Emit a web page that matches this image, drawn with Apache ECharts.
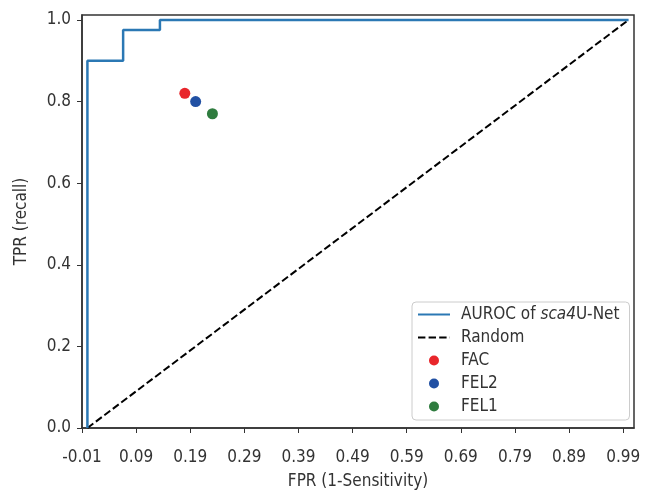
<!DOCTYPE html>
<html>
<head>
<meta charset="utf-8">
<script src="https://cdn.jsdelivr.net/npm/echarts@6/dist/echarts.min.js"></script>
<style>html,body{margin:0;padding:0;background:#fff}#c{width:645px;height:492px}</style>
</head>
<body>
<div id="c"></div>
<script>
// ROC curve corners (FPR, TPR)
const rocFpr = [0, 0, 0.066, 0.066, 0.134, 0.134, 1.0];
const rocTpr = [0, 0.9, 0.9, 0.975, 0.975, 1.0, 1.0];
// Random classifier diagonal
const randomFpr = [0, 1];
const randomTpr = [0, 1];
// Individual operating points
const pointNames = ['FAC', 'FEL2', 'FEL1'];
const pointFpr = [0.18, 0.20, 0.231];
const pointTpr = [0.82, 0.80, 0.77];
const pointColors = ['#e8262b', '#2150a3', '#2f7c3f'];
// Tick labels
const xTicks = [-0.01, 0.09, 0.19, 0.29, 0.39, 0.49, 0.59, 0.69, 0.79, 0.89, 0.99];
const yTicks = [0.0, 0.2, 0.4, 0.6, 0.8, 1.0];

const FONT = '"Liberation Sans Narrow", "DejaVu Sans Condensed", sans-serif';
const FS = 17;
const TXT = '#333';
const ROC_NAME = 'AUROC of sca4U-Net';

const zip = (a, b) => a.map((v, i) => [v, b[i]]);

const series = [
  {
    name: ROC_NAME, type: 'line', symbol: 'none', data: zip(rocFpr, rocTpr),
    lineStyle: { color: '#2b78b4', width: 2.5 }, itemStyle: { color: '#2b78b4' }, z: 3
  },
  {
    name: 'Random', type: 'line', symbol: 'none', data: zip(randomFpr, randomTpr),
    lineStyle: { color: '#000', width: 2, type: [7.4, 3.2] }, itemStyle: { color: '#000' }, z: 2
  }
];
pointNames.forEach((n, i) => {
  series.push({
    name: n, type: 'scatter', symbol: 'circle', symbolSize: 11,
    data: [[pointFpr[i], pointTpr[i]]],
    itemStyle: { color: pointColors[i], opacity: 1 }, z: 4
  });
});

const chart = echarts.init(document.getElementById('c'), null, { renderer: 'canvas' });
chart.setOption({
  animation: false,
  backgroundColor: '#fff',
  textStyle: { fontFamily: FONT },
  grid: { left: 82, right: 11, top: 15, bottom: 64, outerBoundsMode: 'none', containLabel: false,
    show: true, borderColor: '#333', borderWidth: 1.5, backgroundColor: 'transparent' },
  xAxis: {
    type: 'value', min: -0.01, max: 1.01,
    name: 'FPR (1-Sensitivity)', nameLocation: 'middle', nameGap: 45,
    nameTextStyle: { fontFamily: FONT, fontSize: FS, color: TXT },
    axisLine: { show: true, onZero: false, lineStyle: { color: '#333', width: 1.5 } },
    axisTick: { show: true, length: 5, lineStyle: { color: '#333', width: 1 }, customValues: xTicks },
    axisLabel: { fontFamily: FONT, fontSize: FS, color: TXT, margin: 21, customValues: xTicks,
      formatter: v => v.toFixed(2) },
    splitLine: { show: false }
  },
  yAxis: {
    type: 'value', min: 0, max: 1.012,
    name: 'TPR (recall)', nameLocation: 'middle', nameGap: 52,
    nameTextStyle: { fontFamily: FONT, fontSize: FS, color: TXT },
    axisLine: { show: true, onZero: false, lineStyle: { color: '#333', width: 1.5 } },
    axisTick: { show: true, length: 5, lineStyle: { color: '#333', width: 1 }, customValues: yTicks },
    axisLabel: { fontFamily: FONT, fontSize: FS, color: TXT, margin: 11, customValues: yTicks,
      formatter: v => v.toFixed(1) },
    splitLine: { show: false }
  },
  legend: {
    orient: 'vertical', left: 412, top: 302,
    data: [
      { name: ROC_NAME, itemStyle: { opacity: 0 } },
      { name: 'Random', itemStyle: { opacity: 0 } }
    ].concat(pointNames.map(n => ({ name: n }))),
    itemWidth: 32, itemHeight: 10, itemGap: 6,
    padding: [4, 10, 5, 5],
    backgroundColor: '#fff', borderColor: '#ccc', borderWidth: 1, borderRadius: 4,
    selectedMode: false,
    formatter: n => n === ROC_NAME ? 'AUROC of {i|sca4}U-Net' : n,
    textStyle: {
      fontFamily: FONT, fontSize: FS, color: TXT, lineHeight: 17, padding: [0, 0, 0, 6],
      rich: { i: { fontFamily: FONT, fontSize: FS, fontStyle: 'italic', color: TXT, lineHeight: 17 } }
    }
  },
  series: series
});
</script>
</body>
</html>
